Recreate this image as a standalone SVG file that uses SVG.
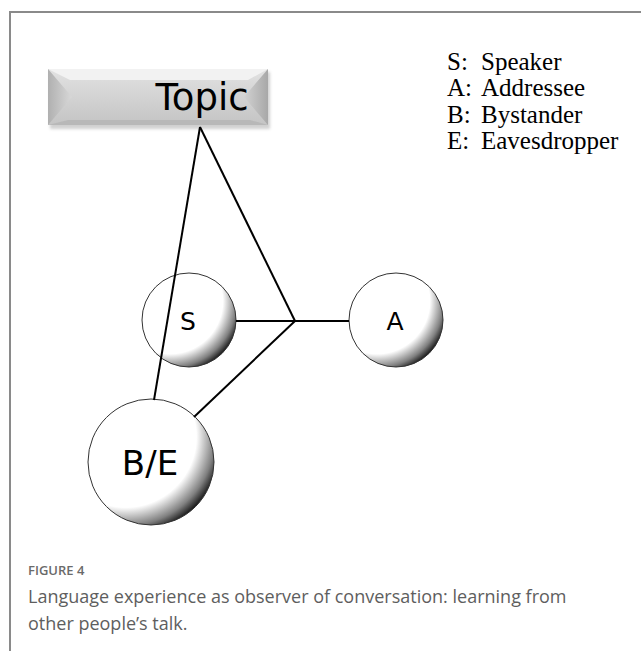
<svg xmlns="http://www.w3.org/2000/svg" width="641" height="651" viewBox="0 0 641 651">
  <style>
    .frame { fill: none; stroke: #8a8a8a; stroke-width: 2; }
    .edge { fill: none; stroke: #000; stroke-width: 2; }
    .ball { fill: url(#ballShade); stroke: #333; stroke-width: 1; }
    .nlabel { font-family: "DejaVu Sans", "Open Sans", sans-serif; fill: #000; text-anchor: middle; }
    .legend { font-family: "Liberation Serif", serif; font-size: 25px; fill: #000; }
    .cap-title { font-family: "Open Sans", "Liberation Sans", sans-serif; font-size: 13px; font-weight: 600; fill: #6a6a6a; }
    .cap { font-family: "Open Sans", "Liberation Sans", sans-serif; font-size: 18px; fill: #5e5e5e; }
  </style>
  <defs>
    <radialGradient id="ballShade" cx="0.3" cy="0.3" r="0.8" fx="0.3" fy="0.3">
      <stop offset="0" stop-color="#fff"/>
      <stop offset="0.7" stop-color="#fff"/>
      <stop offset="0.88" stop-color="#808080"/>
      <stop offset="1" stop-color="#000"/>
    </radialGradient>
    <linearGradient id="faceGrad" x1="0" y1="0" x2="0" y2="1">
      <stop offset="0" stop-color="#e2e2e2"/>
      <stop offset="1" stop-color="#c4c4c4"/>
    </linearGradient>
    <linearGradient id="leftBevel" x1="0" y1="0" x2="1" y2="0">
      <stop offset="0" stop-color="#b0b0b0"/>
      <stop offset="1" stop-color="#d8d8d8"/>
    </linearGradient>
    <linearGradient id="rightBevel" x1="0" y1="0" x2="1" y2="0">
      <stop offset="0" stop-color="#d2d2d2"/>
      <stop offset="1" stop-color="#a8a8a8"/>
    </linearGradient>
    <filter id="soft" x="-10%" y="-20%" width="120%" height="150%">
      <feGaussianBlur stdDeviation="1.5"/>
    </filter>
  </defs>

  <!-- page frame -->
  <polyline class="frame" points="641,12 10,12 10,651"/>

  <!-- bevelled topic plate -->
  <g id="topic">
    <rect x="50" y="72" width="220" height="57" fill="#999" opacity="0.45" filter="url(#soft)"/>
    <rect x="48" y="69" width="220" height="56" fill="url(#faceGrad)"/>
    <polygon points="48,69 268,69 248,80 70,80" fill="#f2f2f2"/>
    <polygon points="48,69 72,97 48,125" fill="url(#leftBevel)"/>
    <polygon points="268,69 244,97 268,125" fill="url(#rightBevel)"/>
    <polygon points="48,125 268,125 250,120 68,120" fill="#b8b8b8"/>
    <text class="nlabel" x="202" y="110" font-size="37">Topic</text>
  </g>

  <g id="speaker">
    <circle class="ball" cx="189" cy="320" r="47"/>
    <text class="nlabel" x="188" y="330" font-size="25">S</text>
  </g>

  <g id="addressee">
    <circle class="ball" cx="396" cy="320" r="47"/>
    <text class="nlabel" x="395" y="330" font-size="25">A</text>
  </g>

  <g id="bystander">
    <circle class="ball" cx="151" cy="462" r="63"/>
    <text class="nlabel" x="150" y="475" font-size="34">B/E</text>
  </g>

  <!-- connectors, drawn over the balls -->
  <g id="connectors">
    <line class="edge" x1="200" y1="127" x2="295" y2="321"/>
    <line class="edge" x1="200" y1="127" x2="154" y2="400"/>
    <line class="edge" x1="236" y1="321" x2="349" y2="321"/>
    <line class="edge" x1="295" y1="321" x2="194" y2="417"/>
  </g>

  <!-- key -->
  <g id="legend">
    <text class="legend" x="447" y="70">S:</text>
    <text class="legend" x="481" y="70">Speaker</text>
    <text class="legend" x="447" y="96">A:</text>
    <text class="legend" x="481" y="96">Addressee</text>
    <text class="legend" x="447" y="123">B:</text>
    <text class="legend" x="481" y="123">Bystander</text>
    <text class="legend" x="447" y="149">E:</text>
    <text class="legend" x="481" y="149">Eavesdropper</text>
  </g>

  <!-- caption -->
  <g id="caption">
    <text class="cap-title" x="28" y="575">FIGURE 4</text>
    <text class="cap" x="28" y="603">Language experience as observer of conversation: learning from</text>
    <text class="cap" x="28" y="630">other people’s talk.</text>
  </g>
</svg>
